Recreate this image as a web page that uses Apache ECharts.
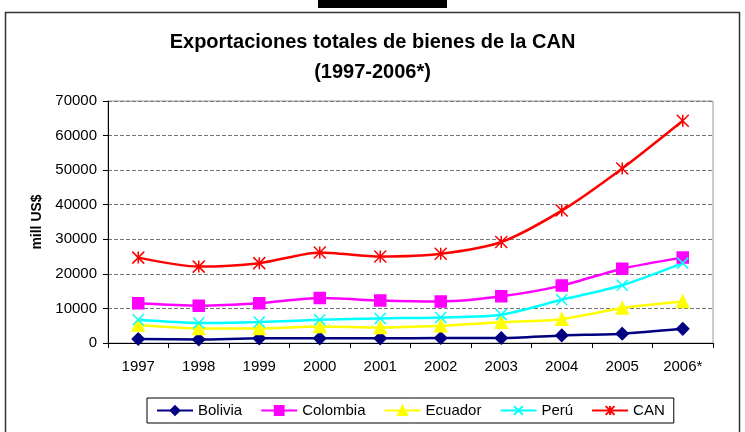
<!DOCTYPE html>
<html>
<head>
<meta charset="utf-8">
<script src="https://cdn.jsdelivr.net/npm/echarts@6/dist/echarts.min.js"></script>
<style>
  html, body { margin: 0; padding: 0; background: #fff; }
  #chart { width: 745px; height: 432px; }
</style>
</head>
<body>
<div id="chart"></div>
<script>
// data (mill US$)
const years = ['1997', '1998', '1999', '2000', '2001', '2002', '2003', '2004', '2005', '2006*'];
const bolivia = [1150, 1000, 1350, 1350, 1350, 1450, 1450, 2200, 2700, 4100];
const colombia = [11500, 10800, 11500, 13000, 12300, 12000, 13500, 16600, 21500, 24700];
const ecuador = [5200, 4200, 4200, 4800, 4500, 5000, 6000, 6900, 10100, 12000];
const peru = [6700, 5800, 6100, 6700, 7100, 7400, 8200, 12500, 16700, 23100];
const can = [24700, 22100, 23100, 26200, 25000, 25800, 29200, 38300, 50500, 64300];
const yTicks = [0, 10000, 20000, 30000, 40000, 50000, 60000, 70000];

const xMark = 'path://M0,0L10,10M10,0L0,10';
const starMark = 'path://M0,0L10,10M10,0L0,10M5,0L5,10';

const mkSeries = (name, data, color, symbol, size) => ({
  name: name,
  type: 'line',
  data: data,
  smooth: 0.25,
  symbol: symbol,
  symbolSize: size,
  lineStyle: { color: color, width: 2.5 },
  itemStyle: { color: color, borderColor: color, borderWidth: 1.5 },
});

const option = {
  animation: false,
  textStyle: { fontFamily: 'Liberation Sans, Arial, sans-serif' },
  title: {
    text: 'Exportaciones totales de bienes de la CAN\n(1997-2006*)',
    left: 'center',
    top: 22,
    textStyle: { fontSize: 20, fontWeight: 'bold', color: '#000', lineHeight: 30 },
  },
  grid: {
    left: 108, right: 32, top: 101, bottom: 89,
    show: true, borderColor: '#999', borderWidth: 1,
  },
  legend: {
    left: 147,
    top: 398,
    itemWidth: 36,
    itemHeight: 11,
    itemGap: 18,
    padding: [5, 9],
    borderColor: '#000',
    borderWidth: 1,
    textStyle: { fontSize: 15, color: '#000' },
    data: ['Bolivia', 'Colombia', 'Ecuador', 'Perú', 'CAN'],
  },
  xAxis: {
    type: 'category',
    data: years,
    boundaryGap: true,
    axisLine: { lineStyle: { color: '#000', width: 1 } },
    axisTick: { show: true, length: 5, lineStyle: { color: '#000' } },
    axisLabel: { color: '#000', fontSize: 15, margin: 16 },
  },
  yAxis: {
    type: 'value',
    min: yTicks[0],
    max: yTicks[yTicks.length - 1],
    interval: 10000,
    name: 'mill US$',
    nameLocation: 'middle',
    nameRotate: 90,
    nameGap: 64,
    nameTextStyle: { fontSize: 14, fontWeight: 'bold', color: '#000' },
    axisLine: { show: true, lineStyle: { color: '#000', width: 1 } },
    axisTick: { show: true, length: 5, lineStyle: { color: '#000' } },
    axisLabel: { color: '#000', fontSize: 15, margin: 11, formatter: (v) => String(v) },
    splitLine: { show: true, lineStyle: { color: '#777', type: 'dashed', width: 1 } },
  },
  graphic: [
    { type: 'rect', shape: { x: 5.5, y: 12.5, width: 734, height: 430 }, style: { fill: 'none', stroke: '#333', lineWidth: 1.5 } },
    { type: 'rect', shape: { x: 318, y: 0, width: 129, height: 8 }, style: { fill: '#000' } },
  ],
  series: [
    mkSeries('Bolivia', bolivia, '#000080', 'diamond', 12),
    mkSeries('Colombia', colombia, '#FF00FF', 'rect', 11),
    mkSeries('Ecuador', ecuador, '#FFFF00', 'triangle', 12),
    mkSeries('Perú', peru, '#00FFFF', xMark, 11),
    mkSeries('CAN', can, '#FF0000', starMark, 12),
  ],
};

const myChart = echarts.init(document.getElementById('chart'));
option && myChart.setOption(option);
</script>
</body>
</html>
